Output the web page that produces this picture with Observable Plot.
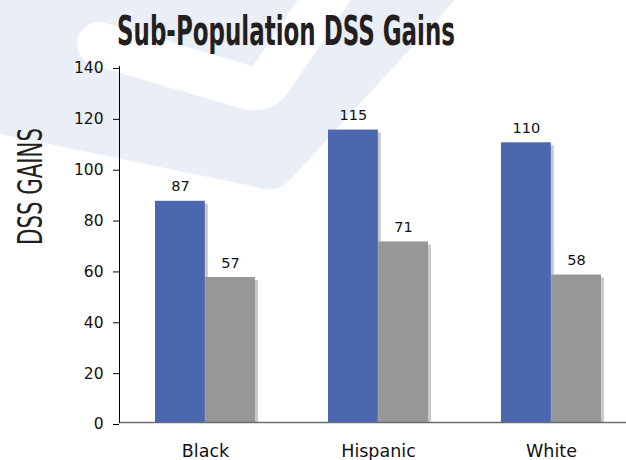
<!DOCTYPE html>
<html>
<head>
<meta charset="utf-8">
<script src="https://cdn.jsdelivr.net/npm/d3@7"></script>
<script src="https://cdn.jsdelivr.net/npm/@observablehq/plot@0.6"></script>
<style>
  html, body { margin: 0; padding: 0; background: #fff; }
  #wrap { position: relative; width: 626px; height: 460px; overflow: hidden; }
  #bg, #title, #ylab, #chart { position: absolute; left: 0; }
  #bg { top: 0; }
  #title { top: 0; height: 60px; width: 626px; }
  #chart { top: 60px; }
  #ylab { top: 0; pointer-events: none; }
</style>
</head>
<body>
<div id="wrap">
  <svg id="bg" width="626" height="460">
    <path d="M0,0 L455,0 L292,178 Q276,196 252,186 L0,134 Z" fill="#EAEEF7"/>
    <path d="M99,44 L246,87 Q262,92 270,80 L338,-20" fill="none" stroke="#fff" stroke-width="44" stroke-linecap="round" stroke-linejoin="round"/>
  </svg>
  <div id="title">
    <svg width="626" height="60">
      <text transform="translate(117,45) scale(1,1.3)" x="0" y="0" textLength="338" lengthAdjust="spacingAndGlyphs"
        style="font-family:'Liberation Sans Narrow','DejaVu Sans Condensed','Roboto Condensed',sans-serif;font-weight:bold;font-size:32px;fill:#231F20">Sub-Population DSS Gains</text>
    </svg>
  </div>
  <div id="chart"></div>
  <svg id="ylab" width="80" height="460">
    <text transform="translate(42,245) rotate(-90)" textLength="117" lengthAdjust="spacingAndGlyphs"
      style="font-family:'Liberation Sans Narrow','DejaVu Sans Condensed',sans-serif;font-size:33px;fill:#231F20">DSS GAINS</text>
  </svg>
</div>
<script>
const categories = ["Black", "Hispanic", "White"];
const seriesBlue = [87, 115, 110];
const seriesGray = [57, 71, 58];
const yTicks = [0, 20, 40, 60, 80, 100, 120, 140];

const data = categories.map((c, i) => ({cat: c, blue: seriesBlue[i], gray: seriesGray[i]}));

const xRange = [119, 638];
const padIn = 0.42, padOut = 0.21;
const step = (xRange[1] - xRange[0]) / (categories.length - padIn + 2 * padOut);
const bw = step * (1 - padIn);
const half = bw / 2;

const BLUE = "#4A67B0";
const GRAY = "#979797";
const SHADOW = "#c9c9c9";
const FONT = "'DejaVu Sans', Verdana, sans-serif";

const chart = Plot.plot({
  width: 626,
  height: 400,
  marginLeft: 119,
  marginRight: 0,
  marginTop: 6,
  marginBottom: 38,
  style: {background: "transparent", fontFamily: FONT, color: "#111"},
  x: {domain: categories, range: xRange, paddingInner: padIn, paddingOuter: padOut, label: null},
  y: {domain: [0, 140], label: null},
  marks: [
    Plot.barY(data, {x: "cat", y: "blue", fill: SHADOW, dx: 3, insetTop: 3, insetRight: half}),
    Plot.barY(data, {x: "cat", y: "gray", fill: SHADOW, dx: 3, insetTop: 3, insetLeft: half}),
    Plot.barY(data, {x: "cat", y: "blue", fill: BLUE, insetRight: half}),
    Plot.barY(data, {x: "cat", y: "gray", fill: GRAY, insetLeft: half}),
    Plot.text(data, {x: "cat", y: "blue", text: d => String(d.blue), dx: -half / 2, dy: -10, lineAnchor: "bottom", fontSize: 14.5, fill: "#111"}),
    Plot.text(data, {x: "cat", y: "gray", text: d => String(d.gray), dx: half / 2, dy: -10, lineAnchor: "bottom", fontSize: 14.5, fill: "#111"}),
    Plot.ruleY([0], {stroke: "#6b6b6b", strokeWidth: 1.5}),
    Plot.frame({anchor: "left", stroke: "#000"}),
    Plot.axisY({ticks: yTicks, tickFormat: d => String(d), tickSize: 6, tickPadding: 10, fontSize: 15.5, dy: 2, label: null, stroke: "#000"}),
    Plot.axisX({tickSize: 0, tickPadding: 22, fontSize: 17.5, label: null})
  ]
});
document.getElementById("chart").appendChild(chart);
</script>
</body>
</html>
